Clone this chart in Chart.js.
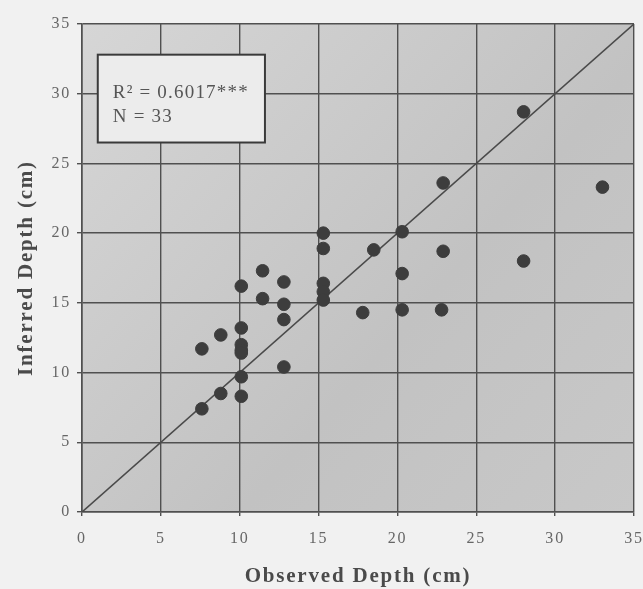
<!DOCTYPE html>
<html>
<head>
<meta charset="utf-8">
<script src="https://cdn.jsdelivr.net/npm/chart.js@4.4.1/dist/chart.umd.min.js"></script>
<style>
  html, body { margin: 0; padding: 0; background: #f1f1f1; }
  canvas { display: block; }
</style>
</head>
<body>
<canvas id="chart" width="643" height="589"></canvas>
<script>
// observed vs inferred depth (cm)
const observed = [7.6, 8.8, 10.1, 10.1, 10.1, 10.1, 10.1, 10.1, 10.1, 8.8, 7.6,
  11.45, 11.45, 12.8, 12.8, 12.8, 12.8,
  15.3, 15.3, 15.3, 15.3, 15.3, 17.8, 18.5, 20.3, 20.3, 20.3,
  22.9, 22.9, 22.8, 28.0, 28.0, 33.0]
const inferred = [11.7, 12.7, 16.2, 13.2, 12.0, 11.6, 11.4, 9.7, 8.3, 8.5, 7.4,
  17.3, 15.3, 16.5, 14.9, 13.8, 10.4,
  20.0, 18.9, 16.4, 15.8, 15.2, 14.3, 18.8, 20.1, 17.1, 14.5,
  23.6, 18.7, 14.5, 28.7, 18.0, 23.3]
const oneToOne = [0, 35]
const tickValues = [0, 5, 10, 15, 20, 25, 30, 35]
const statLines = ['R² = 0.6017***', 'N = 33']

const serif = '"Liberation Serif", "DejaVu Serif", serif'

const points = observed.map((x, i) => ({ x, y: inferred[i] }))
const line = oneToOne.map(v => ({ x: v, y: v }))

const plotBackground = {
  id: 'plotBackground',
  beforeDraw (chart) {
    const { ctx, chartArea: a } = chart
    ctx.save()
    const g = ctx.createLinearGradient(a.left, a.top, a.right, a.bottom)
    g.addColorStop(0, '#d6d6d6')
    g.addColorStop(0.6, '#c2c2c2')
    g.addColorStop(1, '#c8c8c8')
    ctx.fillStyle = g
    ctx.fillRect(a.left, a.top, a.right - a.left, a.bottom - a.top)
    ctx.restore()
    // the printed figure has widely spaced letters
    ctx.letterSpacing = '1.8px'
  }
}

const statBox = {
  id: 'statBox',
  afterDraw (chart) {
    const { ctx, scales } = chart
    const x0 = scales.x.getPixelForValue(1.0)
    const x1 = scales.x.getPixelForValue(11.6)
    const y0 = scales.y.getPixelForValue(32.8)
    const y1 = scales.y.getPixelForValue(26.5)
    ctx.save()
    ctx.fillStyle = '#ececec'
    ctx.fillRect(x0, y0, x1 - x0, y1 - y0)
    ctx.strokeStyle = '#3a3a3a'
    ctx.lineWidth = 2
    ctx.strokeRect(x0, y0, x1 - x0, y1 - y0)
    ctx.fillStyle = '#555'
    ctx.font = '19px ' + serif
    ctx.letterSpacing = '1.2px'
    ctx.textBaseline = 'middle'
    ctx.fillText(statLines[0], x0 + 15, y0 + 38)
    ctx.fillText(statLines[1], x0 + 15, y0 + 62)
    ctx.restore()
  }
}

new Chart(document.getElementById('chart').getContext('2d'), {
  type: 'scatter',
  data: {
    datasets: [{
      type: 'line',
      data: line,
      borderColor: '#4a4a4a',
      borderWidth: 1.6,
      pointRadius: 0,
      order: 2
    }, {
      data: points,
      backgroundColor: '#3d3d3d',
      borderColor: '#3d3d3d',
      pointRadius: 6.3,
      order: 1
    }]
  },
  options: {
    responsive: false,
    animation: false,
    layout: { padding: { top: 24, right: 9, left: 0, bottom: 0 } },
    plugins: { legend: { display: false }, tooltip: { enabled: false } },
    scales: {
      x: {
        type: 'linear',
        min: 0,
        max: 35,
        afterBuildTicks: s => { s.ticks = tickValues.map(v => ({ value: v })) },
        afterFit: s => { s.height = 77; s.paddingRight = 0 },
        grid: { color: '#505050', lineWidth: 1.4, tickLength: 4 },
        border: { color: '#505050', width: 1.6 },
        ticks: { color: '#666', font: { family: serif, size: 16 }, padding: 13 },
        title: {
          display: true,
          text: 'Observed Depth (cm)',
          color: '#4a4a4a',
          font: { family: serif, size: 21, weight: 'bold' },
          padding: { top: 4, bottom: 0 }
        }
      },
      y: {
        min: 0,
        max: 35,
        afterBuildTicks: s => { s.ticks = tickValues.map(v => ({ value: v })) },
        afterFit: s => { s.width = 82 },
        grid: { color: '#505050', lineWidth: 1.4, tickLength: 5 },
        border: { color: '#505050', width: 1.6 },
        ticks: { color: '#666', font: { family: serif, size: 16 }, padding: 6 },
        title: {
          display: true,
          text: 'Inferred Depth (cm)',
          color: '#4a4a4a',
          font: { family: serif, size: 21, weight: 'bold' },
          padding: { top: 14, bottom: 0 }
        }
      }
    }
  },
  plugins: [plotBackground, statBox]
})
</script>
</body>
</html>
